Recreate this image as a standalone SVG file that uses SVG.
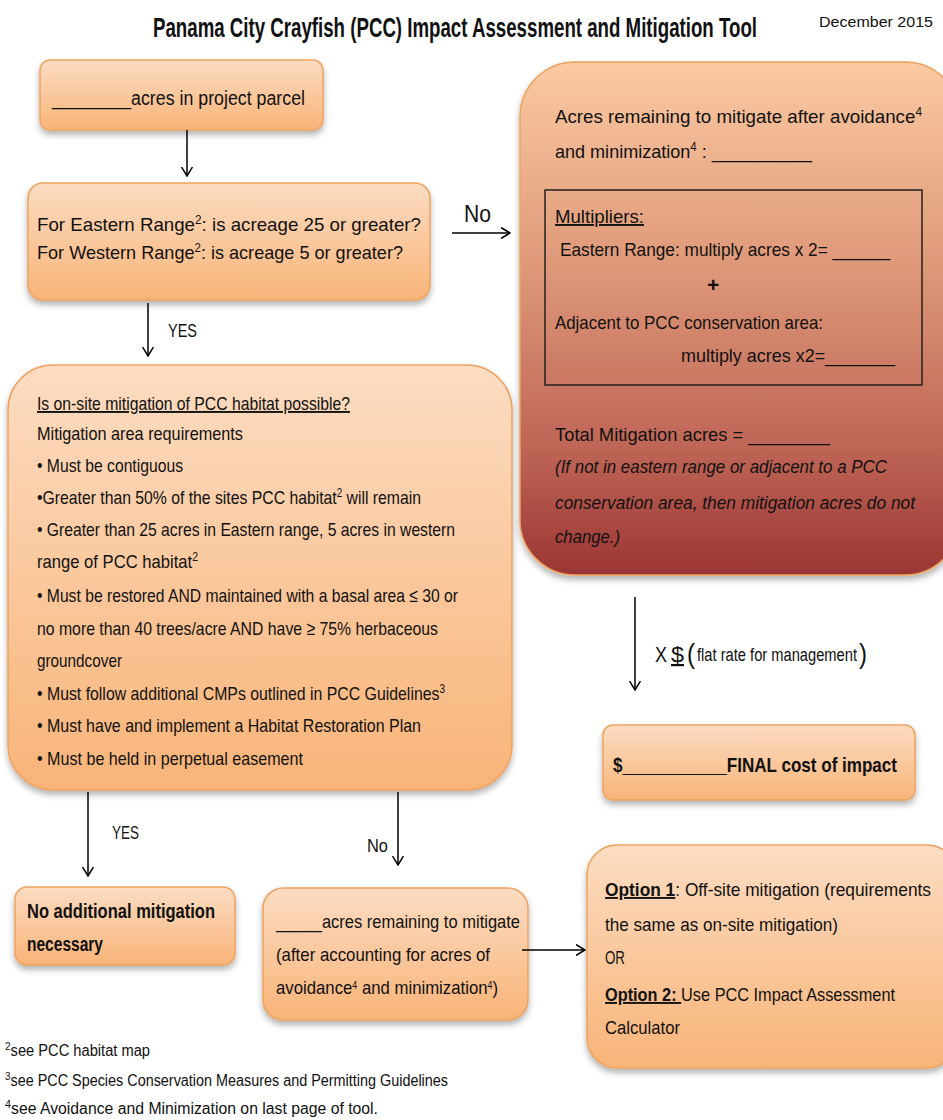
<svg xmlns="http://www.w3.org/2000/svg" width="943" height="1120" viewBox="0 0 943 1120" font-size="19">
<style>
text{font-family:"Liberation Sans",Arial,sans-serif;fill:#111}
.b{font-weight:bold}
.i{font-style:italic}
.u{text-decoration:underline}
.box{fill:url(#og);stroke:#eea25e;stroke-width:1.5;filter:url(#sh)}
.con{stroke:#000;stroke-width:1.5;fill:none;marker-end:url(#ah)}
</style>
<defs>
<linearGradient id="og" x1="0" y1="0" x2="0" y2="1">
<stop offset="0" stop-color="#fcdcc2"/>
<stop offset="1" stop-color="#f8b478"/>
</linearGradient>
<linearGradient id="rg" x1="0" y1="0" x2="0" y2="1">
<stop offset="0" stop-color="#fbcaa2"/>
<stop offset="0.4" stop-color="#de9878"/>
<stop offset="0.75" stop-color="#bf6657"/>
<stop offset="1" stop-color="#9a3533"/>
</linearGradient>
<filter id="sh" x="-10%" y="-10%" width="120%" height="130%">
<feDropShadow dx="0" dy="4" stdDeviation="3" flood-color="#000" flood-opacity="0.3"/>
</filter>
<marker id="ah" viewBox="0 0 10 12" refX="9.5" refY="6" markerWidth="10" markerHeight="12" markerUnits="userSpaceOnUse" orient="auto">
<path d="M0.5,0.5 L9.5,6 L0.5,11.5" fill="none" stroke="#000" stroke-width="1.5"/>
</marker>
</defs>
<rect width="943" height="1120" fill="#fff"/>
<g id="title">
<text x="153" y="37" class="b" font-size="28" textLength="604" lengthAdjust="spacingAndGlyphs">Panama City Crayfish (PCC) Impact Assessment and Mitigation Tool</text>
<text x="819" y="27" font-size="15" textLength="114" lengthAdjust="spacingAndGlyphs">December 2015</text>
</g>
<g id="n-parcel">
<rect x="40" y="60" width="283" height="70" rx="10" class="box"/>
<text x="52" y="105" font-size="20" textLength="253" lengthAdjust="spacingAndGlyphs">________acres in project parcel</text>
</g>
<g id="n-range">
<rect x="28" y="183" width="402" height="117" rx="15" class="box"/>
<text x="37" y="231" textLength="384" lengthAdjust="spacingAndGlyphs">For Eastern Range<tspan baseline-shift="super" font-size="12">2</tspan>: is acreage 25 or greater?</text>
<text x="37" y="259" textLength="366" lengthAdjust="spacingAndGlyphs">For Western Range<tspan baseline-shift="super" font-size="12">2</tspan>: is acreage 5 or greater?</text>
</g>
<g id="n-onsite">
<rect x="8" y="365" width="504" height="425" rx="45" class="box"/>
<text x="37" y="410" textLength="313" lengthAdjust="spacingAndGlyphs" class="u">Is on-site mitigation of PCC habitat possible?</text>
<text x="37" y="440" textLength="206" lengthAdjust="spacingAndGlyphs">Mitigation area requirements</text>
<text x="37" y="472" textLength="146" lengthAdjust="spacingAndGlyphs">• Must be contiguous</text>
<text x="37" y="504" textLength="384" lengthAdjust="spacingAndGlyphs">•Greater than 50% of the sites PCC habitat<tspan baseline-shift="super" font-size="12">2</tspan> will remain</text>
<text x="37" y="536" textLength="418" lengthAdjust="spacingAndGlyphs">• Greater than 25 acres in Eastern range, 5 acres in western</text>
<text x="37" y="568" textLength="161" lengthAdjust="spacingAndGlyphs">range of  PCC habitat<tspan baseline-shift="super" font-size="12">2</tspan></text>
<text x="37" y="602" textLength="421" lengthAdjust="spacingAndGlyphs">• Must be restored AND maintained with a basal area ≤ 30 or</text>
<text x="37" y="635" textLength="401" lengthAdjust="spacingAndGlyphs">no more than 40 trees/acre AND have ≥ 75% herbaceous</text>
<text x="37" y="667" textLength="85" lengthAdjust="spacingAndGlyphs">groundcover</text>
<text x="37" y="700" textLength="408" lengthAdjust="spacingAndGlyphs">• Must follow additional CMPs outlined in PCC Guidelines<tspan baseline-shift="super" font-size="12">3</tspan></text>
<text x="37" y="732" textLength="384" lengthAdjust="spacingAndGlyphs">• Must have and implement a Habitat Restoration Plan</text>
<text x="37" y="765" textLength="266" lengthAdjust="spacingAndGlyphs">• Must be held in perpetual easement</text>
</g>
<g id="n-multipliers">
<rect x="520" y="62" width="440" height="513" rx="55" fill="url(#rg)" stroke="#eea25e" stroke-width="1.5" filter="url(#sh)"/>
<text x="555" y="123" textLength="367" lengthAdjust="spacingAndGlyphs">Acres remaining to mitigate after avoidance<tspan baseline-shift="super" font-size="12">4</tspan></text>
<text x="555" y="158" textLength="257" lengthAdjust="spacingAndGlyphs">and minimization<tspan baseline-shift="super" font-size="12">4</tspan>  : __________</text>
<rect x="545" y="190" width="377" height="195" fill="none" stroke="#222" stroke-width="1.5"/>
<text x="555" y="223" textLength="89" lengthAdjust="spacingAndGlyphs" class="u">Multipliers:</text>
<text x="560" y="256" textLength="330" lengthAdjust="spacingAndGlyphs">Eastern Range: multiply acres x 2= ______</text>
<text x="707" y="292" class="b" font-size="21">+</text>
<text x="555" y="329" textLength="268" lengthAdjust="spacingAndGlyphs">Adjacent to PCC conservation area:</text>
<text x="681" y="362" textLength="214" lengthAdjust="spacingAndGlyphs">multiply acres x2=_______</text>
<text x="555" y="441" textLength="275" lengthAdjust="spacingAndGlyphs">Total Mitigation acres =   ________</text>
<text x="555" y="473" class="i" textLength="332" lengthAdjust="spacingAndGlyphs">(If not in eastern range or adjacent to a PCC</text>
<text x="555" y="509" class="i" textLength="360" lengthAdjust="spacingAndGlyphs">conservation area, then mitigation acres do not</text>
<text x="555" y="543" class="i" textLength="65" lengthAdjust="spacingAndGlyphs">change.)</text>
</g>
<g id="n-final">
<rect x="603" y="725" width="312" height="75" rx="10" class="box"/>
<text x="613" y="772" class="b" font-size="21" textLength="284" lengthAdjust="spacingAndGlyphs">$___________FINAL cost of impact</text>
</g>
<g id="n-noadd">
<rect x="15" y="887" width="220" height="78" rx="12" class="box"/>
<text x="27" y="918" class="b" font-size="20" textLength="188" lengthAdjust="spacingAndGlyphs">No additional mitigation</text>
<text x="27" y="951" class="b" font-size="20" textLength="76" lengthAdjust="spacingAndGlyphs">necessary</text>
</g>
<g id="n-remaining">
<rect x="263" y="888" width="265" height="132" rx="20" class="box"/>
<text x="276" y="928" textLength="244" lengthAdjust="spacingAndGlyphs">_____acres remaining to mitigate</text>
<text x="276" y="961" textLength="214" lengthAdjust="spacingAndGlyphs">(after accounting for acres of</text>
<text x="276" y="994" textLength="222" lengthAdjust="spacingAndGlyphs">avoidance<tspan baseline-shift="super" font-size="10">4</tspan> and minimization<tspan baseline-shift="super" font-size="10">4</tspan>)</text>
</g>
<g id="n-options">
<rect x="587" y="845" width="370" height="223" rx="30" class="box"/>
<text x="605" y="896" textLength="326" lengthAdjust="spacingAndGlyphs"><tspan class="b u">Option 1</tspan>: Off-site mitigation (requirements</text>
<text x="605" y="931" textLength="233" lengthAdjust="spacingAndGlyphs">the same as on-site mitigation)</text>
<text x="605" y="964" textLength="20" lengthAdjust="spacingAndGlyphs">OR</text>
<text x="605" y="1001" textLength="290" lengthAdjust="spacingAndGlyphs"><tspan class="b u">Option 2: </tspan>Use PCC Impact Assessment</text>
<text x="605" y="1034" textLength="75" lengthAdjust="spacingAndGlyphs">Calculator</text>
</g>
<g id="connectors">
<path class="con" d="M187,130 V176"/>
<path class="con" d="M452,233 H510"/>
<text x="464" y="222" font-size="23" textLength="27" lengthAdjust="spacingAndGlyphs">No</text>
<path class="con" d="M148,303 V356"/>
<text x="168" y="337" font-size="18" textLength="29" lengthAdjust="spacingAndGlyphs">YES</text>
<path class="con" d="M635,597 V690"/>
<text x="655" y="662" font-size="22" textLength="12" lengthAdjust="spacingAndGlyphs">X</text>
<text x="671" y="662" font-size="22" class="u" textLength="13" lengthAdjust="spacingAndGlyphs">$</text>
<text x="687" y="663" font-size="27" textLength="8" lengthAdjust="spacingAndGlyphs">(</text>
<text x="697" y="661" font-size="18" textLength="160" lengthAdjust="spacingAndGlyphs">flat rate for management</text>
<text x="859" y="663" font-size="27" textLength="8" lengthAdjust="spacingAndGlyphs">)</text>
<path class="con" d="M88,792 V876"/>
<text x="112" y="839" font-size="18" textLength="27" lengthAdjust="spacingAndGlyphs">YES</text>
<path class="con" d="M398,792 V865"/>
<text x="367" y="852" font-size="19" textLength="21" lengthAdjust="spacingAndGlyphs">No</text>
<path class="con" d="M522,950 H585"/>
</g>
<g id="footnotes">
<text x="5" y="1056" font-size="16" textLength="145" lengthAdjust="spacingAndGlyphs"><tspan baseline-shift="super" font-size="11">2</tspan>see PCC habitat map</text>
<text x="5" y="1086" font-size="16" textLength="443" lengthAdjust="spacingAndGlyphs"><tspan baseline-shift="super" font-size="11">3</tspan>see PCC Species Conservation Measures and Permitting Guidelines</text>
<text x="5" y="1114" font-size="16" textLength="373" lengthAdjust="spacingAndGlyphs"><tspan baseline-shift="super" font-size="11">4</tspan>see Avoidance and Minimization on last page of tool.</text>
</g>
</svg>
